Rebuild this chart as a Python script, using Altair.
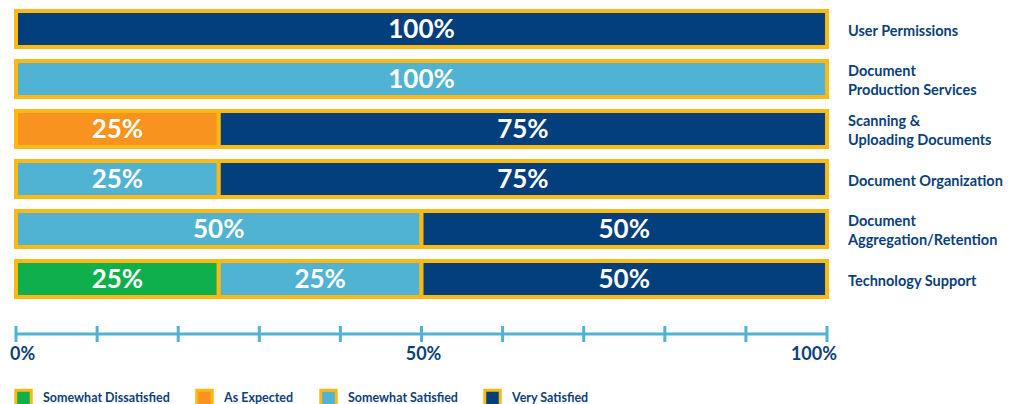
import altair as alt
import pandas as pd

categories = ["User Permissions", "Document Production Services", "Scanning & Uploading Documents",
              "Document Organization", "Document Aggregation/Retention", "Technology Support"]
display_labels = ["User Permissions", "Document\nProduction Services", "Scanning &\nUploading Documents",
                  "Document Organization", "Document\nAggregation/Retention", "Technology Support"]
responses = ["Somewhat Dissatisfied", "As Expected", "Somewhat Satisfied", "Very Satisfied"]
colors = ["#0fb04b", "#f7931e", "#50b3d3", "#023f7c"]

somewhat_dissatisfied = [0, 0, 0, 0, 0, 25]
as_expected = [0, 0, 25, 0, 0, 0]
somewhat_satisfied = [0, 100, 0, 25, 50, 25]
very_satisfied = [100, 0, 75, 75, 50, 50]

tick_values = [0, 10, 20, 30, 40, 50, 60, 70, 80, 90, 100]
tick_labels = {0: "0%", 50: "50%", 100: "100%"}

rows = []
series = [somewhat_dissatisfied, as_expected, somewhat_satisfied, very_satisfied]
for ci, cat in enumerate(categories):
    for ri, resp in enumerate(responses):
        v = series[ri][ci]
        if v > 0:
            rows.append({"category": cat, "response": resp, "order": ri, "value": v,
                         "label": f"{v}%"})
df = pd.DataFrame(rows)
labels_df = pd.DataFrame({"category": categories, "text": display_labels,
                          "multi": ["\n" in t for t in display_labels]})
ticks_df = pd.DataFrame({"t": tick_values})
ticklab_df = pd.DataFrame({"t": list(tick_labels.keys()), "text": list(tick_labels.values())})

GOLD = "#fdb913"
NAVY = "#0b3f7c"
AXIS = "#50b3d3"

xscale = alt.Scale(domain=[0, 100], range=[16, 827], nice=False, zero=True)
yscale = alt.Scale(domain=categories, range=[4, 304], paddingInner=0.28, paddingOuter=0.14)
color_scale = alt.Scale(domain=responses, range=colors)

base = alt.Chart(df).transform_stack(
    stack="value", groupby=["category"], as_=["x0", "x1"], sort=[alt.SortField("order")]
)

bars = base.mark_bar(stroke=GOLD, strokeWidth=4, cornerRadius=0).encode(
    x=alt.X("x0:Q", scale=xscale, axis=None),
    x2="x1:Q",
    y=alt.Y("category:N", scale=yscale, axis=None),
    fill=alt.Fill("response:N", scale=color_scale,
                  legend=alt.Legend(orient="none", legendX=14, legendY=388, direction="horizontal",
                                    title=None, symbolType="square", symbolSize=240,
                                    symbolStrokeColor=GOLD, symbolStrokeWidth=3, symbolOpacity=1,
                                    labelFont="Lato", labelFontWeight="bold", labelFontSize=12.5,
                                    labelColor=NAVY, columnPadding=20, labelOffset=10)),
)

bar_text = base.transform_calculate(mid="(datum.x0 + datum.x1) / 2").mark_text(
    color="white", font="Lato", fontWeight="bold", fontSize=26, baseline="middle", dy=1
).encode(
    x=alt.X("mid:Q", scale=xscale, axis=None),
    y=alt.Y("category:N", scale=yscale, axis=None),
    text="label:N",
)

def cat_text(multi, dy):
    return alt.Chart(labels_df).transform_filter(
        alt.datum.multi == multi
    ).transform_calculate(
        lines="split(datum.text, '\\n')"
    ).mark_text(
        align="left", baseline="middle", font="Lato", fontWeight="bold", fontSize=14.5,
        color=NAVY, lineHeight=19, dy=dy
    ).encode(
        x=alt.value(848),
        y=alt.Y("category:N", scale=yscale, axis=None),
        text="lines:N",
    )

axis_line = alt.Chart(ticks_df).mark_rule(color=AXIS, strokeWidth=3).encode(
    x=alt.X("min(t):Q", scale=xscale, axis=None),
    x2="max(t):Q",
    y=alt.value(334),
)

axis_ticks = alt.Chart(ticks_df).mark_rule(color=AXIS, strokeWidth=3).encode(
    x=alt.X("t:Q", scale=xscale, axis=None),
    y=alt.value(326),
    y2=alt.value(342),
)

def tick_text(val, align):
    return alt.Chart(ticklab_df).transform_filter(alt.datum.t == val).mark_text(
        align=align, baseline="middle", font="Lato", fontWeight="bold", fontSize=18,
        color=NAVY, dx={"left": -6, "center": 2, "right": 10}[align]
    ).encode(
        x=alt.X("t:Q", scale=xscale, axis=None),
        y=alt.value(355),
        text="text:N",
    )

chart = alt.layer(
    bars, bar_text, cat_text(False, 3), cat_text(True, -7), axis_line, axis_ticks,
    tick_text(0, "left"), tick_text(50, "center"), tick_text(100, "right")
).properties(
    width=1021, height=404, autosize=alt.AutoSizeParams(type="none"), padding=0
).configure_view(stroke=None)

chart.save("out.html", embed_options={"renderer": "svg", "actions": False})
